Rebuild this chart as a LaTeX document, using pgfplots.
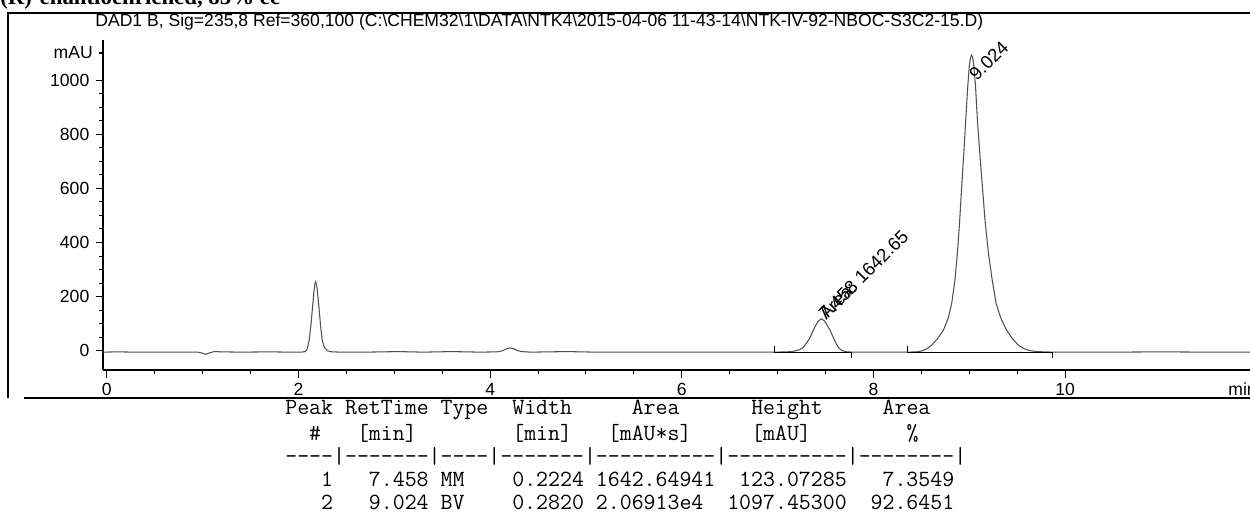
\documentclass[border=0pt]{standalone}
\usepackage{pgfplots}
\pgfplotsset{compat=1.18}
\usepackage{fontspec}
\setmainfont{Liberation Sans}
\newfontfamily\mono[Ligatures=TeXOff]{Latin Modern Mono}
\newfontfamily\serifb{Liberation Serif}

\begin{document}
\begin{tikzpicture}
% chromatogram (axis box: x 103..1250 px, y 40..370 px, 1 px = 0.2 mm)
\begin{axis}[
    at={(20.6mm,-74mm)}, anchor=south west,
    scale only axis, width=229.4mm, height=66mm,
    xmin=-0.04, xmax=11.93, ymin=-71, ymax=1148,
    axis x line=bottom, axis y line=left,
    axis line style={-, line width=0.8pt},
    xtick={0,2,...,10}, minor x tick num=3,
    ytick={0,200,...,1000}, minor y tick num=3,
    extra y ticks={1100}, extra y tick labels={mAU},
    extra y tick style={major tick length=0.8mm},
    tick align=outside, major tick length=1.5mm, minor tick length=0.8mm,
    tick style={black, line width=0.6pt},
    tick label style={font=\fontsize{10}{12}\selectfont},
    /pgf/number format/assume math mode=true,
    /pgf/number format/1000 sep={},
    clip=false,
]
\addplot[color={rgb,255:red,80;green,80;blue,80}, line width=0.6pt] coordinates {
(-0.04,-5) (0.1,-4) (0.3,-5) (0.5,-5) (0.8,-5) (0.95,-5) (1.0,-9) (1.03,-13)
(1.07,-8) (1.12,-3) (1.2,-4) (1.4,-5) (1.7,-4) (1.9,-5) (2.03,-5) (2.07,-3)
(2.09,5) (2.112,40) (2.13,95) (2.147,163) (2.163,225) (2.172,248) (2.178,255)
(2.186,248) (2.195,228) (2.213,163) (2.23,95) (2.247,40) (2.27,12) (2.3,0)
(2.35,-4) (2.45,-5) (2.7,-5) (3.05,-3) (3.3,-5) (3.6,-3) (3.9,-5) (4.07,-4)
(4.12,-1) (4.17,7) (4.21,11) (4.25,7) (4.29,0) (4.33,-3) (4.42,-5) (4.8,-3)
(5.1,-5) (5.5,-5) (6.0,-5) (6.5,-5) (6.97,-5) (7.1,-4) (7.16,-2) (7.22,3)
(7.26,10) (7.30,27) (7.34,50) (7.373,76) (7.40,96) (7.43,112) (7.458,118)
(7.49,110) (7.52,93) (7.547,76) (7.58,50) (7.61,27) (7.64,10) (7.67,1)
(7.72,-4) (7.8,-5) (8.1,-5) (8.36,-5) (8.45,-4) (8.5,-1) (8.55,6) (8.61,21)
(8.67,45) (8.73,76) (8.78,120) (8.817,175) (8.85,260) (8.876,360) (8.90,480)
(8.921,606) (8.943,730) (8.963,852) (8.985,980) (9.0,1050) (9.012,1082)
(9.024,1092) (9.035,1084) (9.045,1060) (9.065,980) (9.085,852) (9.11,730)
(9.137,606) (9.165,480) (9.2,360) (9.24,260) (9.28,175) (9.33,120) (9.39,76)
(9.45,45) (9.51,21) (9.57,8) (9.63,1) (9.7,-3) (9.87,-5) (10.5,-5) (11,-4)
(11.5,-5) (11.93,-5)
};
% integration baselines
\addplot[black, line width=0.6pt] coordinates {(6.97,18) (6.97,-5) (7.77,-5) (7.77,-27)};
\addplot[black, line width=0.6pt] coordinates {(8.36,18) (8.36,-5) (9.87,-5) (9.87,-27)};
% peak labels
\node[rotate=45, anchor=west, inner sep=0pt, font=\fontsize{10.5}{12}\selectfont]
  at (axis cs:7.46,126) {7.458};
\node[rotate=45, anchor=west, inner sep=0pt, font=\fontsize{10.5}{12}\selectfont]
  at (axis cs:7.46,126) {Area: 1642.65};
\node[rotate=45, anchor=west, inner sep=0pt, font=\fontsize{10.5}{12}\selectfont]
  at (axis cs:9.03,1010) {9.024};
\end{axis}

\begin{scope}[x=0.2mm, y=-0.2mm]
% frame
\draw[line width=0.3mm] (8,398) -- (8,13) -- (1250,13);
\draw[line width=0.3mm] (24,398) -- (1250,398);
% clipped heading of the page
\node[anchor=base west, inner sep=0pt, font=\serifb\bfseries\fontsize{13}{15}\selectfont]
  at (0,5) {(R)-enantioenriched, 85\% ee};
% signal description
\node[anchor=west, inner sep=0pt, font=\fontsize{10}{12}\selectfont]
  at (95,22) {DAD1 B, Sig=235,8 Ref=360,100 (C:\textbackslash CHEM32\textbackslash 1\textbackslash DATA\textbackslash NTK4\textbackslash 2015-04-06 11-43-14\textbackslash NTK-IV-92-NBOC-S3C2-15.D)};
% unit of the x axis
\node[anchor=west, inner sep=0pt, font=\fontsize{10}{12}\selectfont] at (1228,389) {min};
% peak table
\begin{scope}[every node/.style={anchor=west, inner sep=0pt, font=\mono\fontsize{13.2}{15}\selectfont}]
\node at (285,410) {Peak~RetTime~Type~~Width~~~~~Area~~~~~~Height~~~~~Area};
\node at (285,433) {~~\#~~~[min]~~~~~~~~[min]~~~[mAU*s]~~~~~[mAU]~~~~~~~~\%};
\node at (285,456) {----|-------|----|-------|----------|----------|--------|};
\node at (285,479) {~~~1~~~7.458~MM~~~~0.2224~1642.64941~~123.07285~~~7.3549};
\node at (285,502) {~~~2~~~9.024~BV~~~~0.2820~2.06913e4~~1097.45300~~92.6451};
\end{scope}
\pgfresetboundingbox
\path[use as bounding box] (0,0) rectangle (1250,515);
\end{scope}
\end{tikzpicture}
\end{document}
